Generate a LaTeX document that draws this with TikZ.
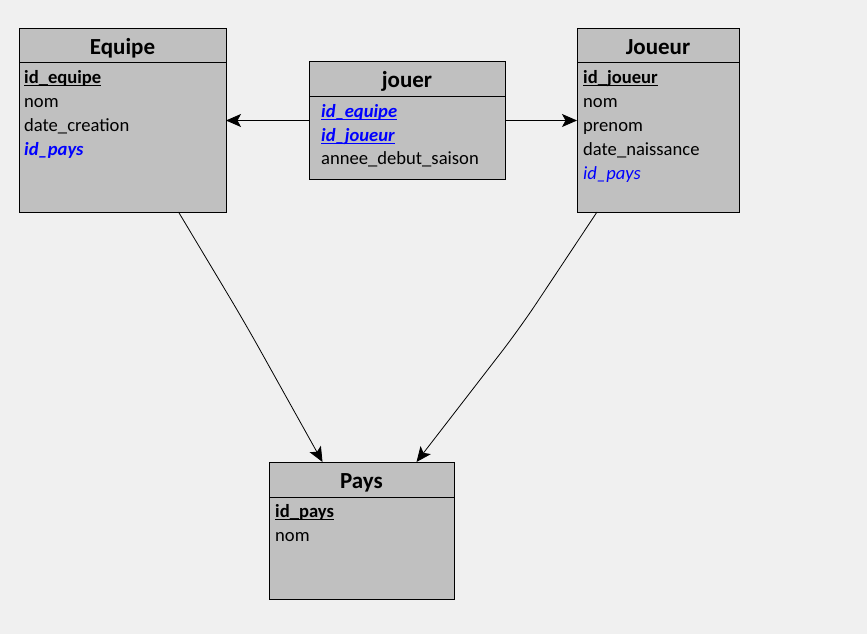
\documentclass[tikz,border=0pt]{standalone}
\usepackage{fontspec}
\setmainfont{Carlito}
\usetikzlibrary{arrows.meta}
\definecolor{bg}{HTML}{F0F0F0}
\definecolor{boxfill}{HTML}{C0C0C0}
\definecolor{fk}{HTML}{0000FF}
\newcommand{\pkline}[1]{{\setbox0\hbox{#1}\rlap{\rule[-2.7pt]{\wd0}{1pt}}\box0}}
\begin{document}
\begin{tikzpicture}[x=1pt,y=-1pt,
 box/.style={draw=black, fill=boxfill, line width=1pt, rectangle, inner sep=0pt, outer sep=0pt, anchor=north west},
 sep/.style={line width=1pt},
 title/.style={font=\fontsize{23}{27}\selectfont\bfseries, anchor=base, inner sep=0pt},
 attr/.style={font=\fontsize{18.6}{22}\selectfont, anchor=base west, inner sep=0pt},
 fkey/.style={attr, text=fk},
 arr/.style={-{Stealth[length=15pt,width=13pt,inset=3.5pt]}, line width=0.8pt}]

\useasboundingbox[fill=bg] (0,0) rectangle (867,634);

% Equipe
\node[box, minimum width=207pt, minimum height=183pt] (equipe) at (19,29) {};
\draw[sep] (equipe.north west) ++(0,34) -- ++(207,0);
\node[title] (equipe-t) at (122.5,55) {Equipe};
\node[attr] (equipe-a1) at (24,83) {\pkline{\bfseries id\_equipe}};
\node[attr] (equipe-a2) at (24,107) {nom};
\node[attr] (equipe-a3) at (24,131) {date\_creation};
\node[fkey] (equipe-a4) at (24,155) {\bfseries\itshape id\_pays};

% jouer
\node[box, minimum width=196pt, minimum height=117pt] (jouer) at (309,62) {};
\draw[sep] (jouer.north west) ++(0,34) -- ++(196,0);
\node[title] (jouer-t) at (407,88) {jouer};
\node[fkey] (jouer-a1) at (321,117) {\pkline{\bfseries\itshape id\_equipe}};
\node[fkey] (jouer-a2) at (321,141) {\pkline{\bfseries\itshape id\_joueur}};
\node[attr] (jouer-a3) at (321,164) {annee\_debut\_saison};

% Joueur
\node[box, minimum width=162pt, minimum height=183pt] (joueur) at (577,29) {};
\draw[sep] (joueur.north west) ++(0,34) -- ++(162,0);
\node[title] (joueur-t) at (658,54.5) {Joueur};
\node[attr] (joueur-a1) at (583,83) {\pkline{\bfseries id\_joueur}};
\node[attr] (joueur-a2) at (583,107) {nom};
\node[attr] (joueur-a3) at (583,131) {prenom};
\node[attr] (joueur-a4) at (583,155) {date\_naissance};
\node[fkey] (joueur-a5) at (583,179) {\itshape id\_pays};

% Pays
\node[box, minimum width=185pt, minimum height=137pt] (pays) at (269,462) {};
\draw[sep] (pays.north west) ++(0,35) -- ++(185,0);
\node[title] (pays-t) at (361.5,488) {Pays};
\node[attr] (pays-a1) at (275,517) {\pkline{\bfseries id\_pays}};
\node[attr] (pays-a2) at (275,541) {nom};

% connectors
\draw[arr] (jouer.west) -- (equipe.east);
\draw[arr] (jouer.east) -- (joueur.west);
\coordinate (b1) at (245,323);
\coordinate (b2) at (520,328);
\draw[arr, rounded corners=30pt] ([xshift=56pt]equipe.south) -- (b1) -- ([xshift=-39pt]pays.north);
\draw[arr, rounded corners=30pt] ([xshift=-61pt]joueur.south) -- (b2) -- ([xshift=55pt]pays.north);
\end{tikzpicture}
\end{document}
